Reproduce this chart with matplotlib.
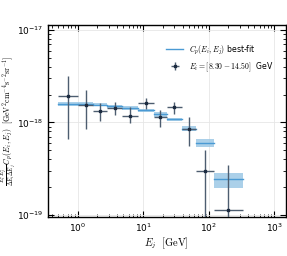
import numpy as np
import matplotlib
matplotlib.use("Agg")
import matplotlib.pyplot as plt

plt.rcParams['mathtext.fontset'] = 'cm'
plt.rcParams['font.family'] = ['DejaVu Sans']

# Energy bin edges [GeV]
bin_edges = [0.5, 1.0, 1.73, 2.8, 4.8, 8.3, 14.5, 22.9, 39.1, 65.0, 120.0, 331.0]

# Measured C_p points
cp_vals = [1.92e-18, 1.55e-18, 1.34e-18, 1.44e-18, 1.18e-18, 1.61e-18,
           1.16e-18, 1.46e-18, 8.5e-19, 2.98e-19, 1.13e-19]
cp_hi = [3.16e-18, 2.23e-18, 1.61e-18, 1.66e-18, 1.48e-18, 1.83e-18,
         1.37e-18, 1.66e-18, 1.14e-18, 5.1e-19, 3.43e-19]
cp_lo = [6.6e-19, 8.4e-19, 1.04e-18, 1.20e-18, 9.9e-19, 1.41e-18,
         9.0e-19, 1.24e-18, 5.55e-19, 1.0e-20, 1.0e-20]

# Best-fit model with band
fit_vals = [1.60e-18, 1.58e-18, 1.55e-18, 1.49e-18, 1.43e-18, 1.35e-18,
            1.22e-18, 1.08e-18, 8.6e-19, 5.98e-19, 2.47e-19]
fit_hi = [1.68e-18, 1.65e-18, 1.61e-18, 1.55e-18, 1.49e-18, 1.41e-18,
          1.29e-18, 1.13e-18, 9.2e-19, 6.55e-19, 2.84e-19]
fit_lo = [1.52e-18, 1.51e-18, 1.49e-18, 1.43e-18, 1.37e-18, 1.29e-18,
          1.15e-18, 1.03e-18, 8.0e-19, 5.45e-19, 1.95e-19]

edges = np.array(bin_edges)
centers = np.sqrt(edges[:-1] * edges[1:])
vals = np.array(cp_vals)
yerr = [vals - np.array(cp_lo), np.array(cp_hi) - vals]
xerr = [centers - edges[:-1], edges[1:] - centers]

fig = plt.figure(figsize=(2.87, 2.56), dpi=100)
ax = fig.add_axes([0.167, 0.154, 0.828, 0.748])

line_c = '#4a9ad4'
fill_c = '#9cc8e6'
for k in range(len(fit_vals)):
    ax.fill_between([edges[k], edges[k + 1]], fit_lo[k], fit_hi[k],
                    color=fill_c, alpha=0.85, lw=0, zorder=2)
    ax.plot([edges[k], edges[k + 1]], [fit_vals[k], fit_vals[k]],
            color=line_c, lw=1.0, zorder=3,
            label=r'$C_p(E_i,E_j)$ best-fit' if k == 0 else None)

ax.errorbar(centers, vals, xerr=xerr, yerr=yerr, fmt='s', ms=2.0,
            color='#1c2b40', ecolor='#4d5d70', elinewidth=1.0, capsize=0,
            zorder=4, label=r'$E_i = [8.30 - 14.50]$  GeV')

ax.set_xscale('log')
ax.set_yscale('log')
ax.set_xlim(0.35, 1500)
ax.set_ylim(9.6e-20, 1.13e-17)

ax.grid(True, which='major', color='#e6e6e6', lw=0.6, zorder=0)
ax.tick_params(which='both', direction='in', top=True, right=True,
               labelsize=6.5)
ax.tick_params(which='major', length=4, width=0.8)
ax.tick_params(which='minor', length=2, width=0.6)
for s in ax.spines.values():
    s.set_linewidth(1.0)

ax.set_xlabel(r'$E_j\ \ [\mathrm{GeV}]$', fontsize=7.5, labelpad=1)
ax.set_ylabel(r'$\frac{E_i^2E_j^2}{\Delta E_i \Delta E_j}C_p(E_i,E_j)\ \ [\mathrm{GeV}^2\mathrm{cm}^{-4}\mathrm{s}^{-2}\mathrm{sr}^{-1}]$',
              fontsize=5.7)
ax.yaxis.set_label_coords(-0.125, 0.5)

leg = ax.legend(loc='upper right', fontsize=5.6, frameon=False,
                bbox_to_anchor=(0.98, 0.94), handlelength=2.2)

fig.savefig('out.png', dpi=100)
